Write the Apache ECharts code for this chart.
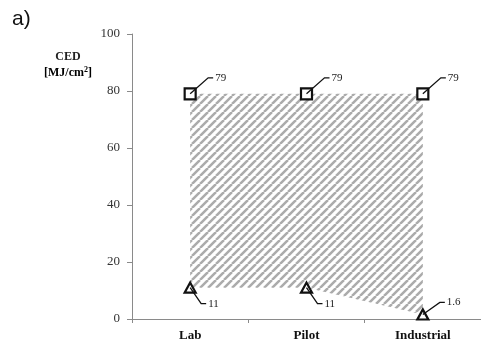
<!DOCTYPE html>
<html>
<head>
<meta charset="utf-8">
<script src="https://cdn.jsdelivr.net/npm/echarts@6/dist/echarts.min.js"></script>
<style>html,body{margin:0;padding:0;background:#fff}#c{width:481px;height:342px}</style>
</head>
<body>
<div id="c"></div>
<script>
// ---- data ----
const categories = ['Lab', 'Pilot', 'Industrial'];
const upperValues = [79, 79, 79];
const lowerValues = [11, 11, 1.6];
const yMin = 0, yMax = 100, yInterval = 20;

// ---- styles ----
const serif = 'Liberation Serif';
// leader offsets (pixels) per series point: [dx, dy] of the bend
const upperLeader = [[18, -16], [18, -16], [18, -16]];
const lowerLeader = [[11, 16], [11, 16], [17, -12]];

function makeHatch() {
  const s = 8;
  const c = document.createElement('canvas');
  c.width = s; c.height = s;
  const ctx = c.getContext('2d');
  ctx.fillStyle = '#ffffff';
  ctx.fillRect(0, 0, s, s);
  ctx.strokeStyle = '#ababab';
  ctx.lineWidth = 2.5;
  for (const o of [-s, 0, s]) {
    ctx.beginPath();
    ctx.moveTo(o, s);
    ctx.lineTo(o + s, 0);
    ctx.stroke();
  }
  return c;
}

const chart = echarts.init(document.getElementById('c'), null, {renderer: 'canvas'});

function leaderSeries(values, offsets, name) {
  return {
    name: name,
    type: 'custom',
    z: 10,
    silent: true,
    data: values.map((v, i) => [i, v]),
    renderItem: function (params, api) {
      const i = params.dataIndex;
      const p = api.coord([api.value(0), api.value(1)]);
      const off = offsets[i];
      const b = [p[0] + off[0], p[1] + off[1]];
      const e = [b[0] + 5, b[1]];
      return {
        type: 'group',
        children: [
          {type: 'polyline', shape: {points: [p, b, e]}, style: {stroke: '#111', lineWidth: 1.3, fill: null}},
          {type: 'text', style: {text: String(values[i]), x: e[0] + 2, y: e[1], verticalAlign: 'middle', font: '11px "' + serif + '"', fill: '#222'}}
        ]
      };
    }
  };
}

const option = {
  animation: false,
  grid: {left: 132, top: 34, width: 355, height: 289, containLabel: false},
  xAxis: {
    type: 'category',
    data: categories,
    boundaryGap: true,
    axisLine: {lineStyle: {color: '#8a8a8a', width: 1}},
    axisTick: {show: true, length: 4, lineStyle: {color: '#8a8a8a'}},
    axisLabel: {fontFamily: serif, fontWeight: 'bold', fontSize: 13, color: '#111', margin: 10},
    splitLine: {show: false}
  },
  yAxis: {
    type: 'value',
    min: yMin, max: yMax, interval: yInterval,
    axisLine: {show: true, lineStyle: {color: '#8a8a8a', width: 1}},
    axisTick: {show: true, length: 5, lineStyle: {color: '#8a8a8a'}},
    axisLabel: {fontFamily: serif, fontSize: 13, color: '#333', margin: 12},
    splitLine: {show: false}
  },
  graphic: [
    {type: 'text', left: 12, top: 9, style: {text: 'a)', font: '21px "Liberation Sans"', fill: '#111'}},
    {type: 'text', x: 68, y: 51, style: {text: 'CED', textAlign: 'center', font: 'bold 12px "' + serif + '"', fill: '#222'}},
    {type: 'text', x: 68, y: 66, style: {
      text: '{a|[MJ/cm}{s|2}{a|]}', textAlign: 'center',
      rich: {a: {fontFamily: serif, fontWeight: 'bold', fontSize: 12, color: '#222'},
             s: {fontFamily: serif, fontWeight: 'bold', fontSize: 8, verticalAlign: 'top', color: '#222', padding: [0, 0, 5, 0]}}
    }}
  ],
  series: [
    {
      name: 'base', type: 'line', stack: 'band', data: lowerValues,
      symbol: 'none', lineStyle: {opacity: 0}, silent: true, z: 1
    },
    {
      name: 'band', type: 'line', stack: 'band',
      data: upperValues.map((u, i) => u - lowerValues[i]),
      symbol: 'none', lineStyle: {opacity: 0}, silent: true, z: 1,
      areaStyle: {color: {image: makeHatch(), repeat: 'repeat'}, opacity: 1}
    },
    {
      name: 'upper', type: 'line', data: upperValues, z: 5,
      symbol: 'rect', symbolSize: 11, showAllSymbol: true,
      lineStyle: {opacity: 0},
      itemStyle: {color: '#ffffff', borderColor: '#111', borderWidth: 2.2}
    },
    {
      name: 'lower', type: 'line', data: lowerValues, z: 5,
      symbol: 'triangle', symbolSize: [11, 10], showAllSymbol: true,
      lineStyle: {opacity: 0},
      itemStyle: {color: '#ffffff', borderColor: '#111', borderWidth: 2.2}
    },
    leaderSeries(upperValues, upperLeader, 'upperLabels'),
    leaderSeries(lowerValues, lowerLeader, 'lowerLabels')
  ]
};
chart.setOption(option);
</script>
</body>
</html>
